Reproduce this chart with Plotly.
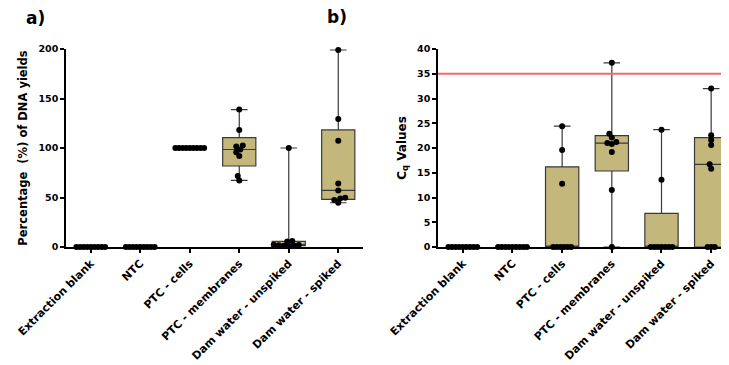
import numpy as np
import plotly.graph_objects as go

categories = ["Extraction blank", "NTC", "PTC - cells", "PTC - membranes",
              "Dam water - unspiked", "Dam water - spiked"]

# Panel a) Percentage (%) of DNA yields
yield_extraction_blank = [0, 0, 0, 0, 0, 0, 0, 0, 0]
yield_ntc = [0, 0, 0, 0, 0, 0, 0, 0, 0]
yield_ptc_cells = [100, 100, 100, 100, 100, 100, 100, 100, 100]
yield_ptc_membranes = [138.8, 118.3, 102.5, 101.5, 98.5, 95.8, 92.0, 71.6, 67.2]
yield_dam_unspiked = [100, 6.0, 5.5, 2.3, 2.0, 1.8, 1.5, 1.2, 1.0]
yield_dam_spiked = [199, 129.4, 107.2, 64.2, 57.1, 49.7, 49.0, 47.4, 44.7]

# Panel b) Cq values
cq_extraction_blank = [0, 0, 0, 0, 0, 0, 0, 0, 0]
cq_ntc = [0, 0, 0, 0, 0, 0, 0, 0, 0]
cq_ptc_cells = [24.4, 19.6, 12.8, 0, 0, 0, 0, 0, 0]
cq_ptc_membranes = [37.2, 22.9, 22.1, 21.2, 21.0, 20.8, 19.2, 11.5, 0]
cq_dam_unspiked = [23.7, 13.6, 0, 0, 0, 0, 0, 0, 0]
cq_dam_spiked = [32.0, 22.6, 21.6, 20.6, 16.7, 15.8, 0, 0, 0]

cq_threshold = 35

yield_groups = [yield_extraction_blank, yield_ntc, yield_ptc_cells,
                yield_ptc_membranes, yield_dam_unspiked, yield_dam_spiked]
cq_groups = [cq_extraction_blank, cq_ntc, cq_ptc_cells,
             cq_ptc_membranes, cq_dam_unspiked, cq_dam_spiked]

BOX_FILL = "#C3B77C"
LINE_COL = "#3a3a3a"
FONT = "DejaVu Sans"


def stats(vals):
    v = np.sort(np.asarray(vals, float))
    n = len(v)
    med = float(np.median(v))
    lower = v[: n // 2]
    upper = v[(n + 1) // 2:]
    return float(v.min()), float(np.median(lower)), med, float(np.median(upper)), float(v.max())


def swarm(vals, sx, sy, d=4.6, row=3.6):
    vals = np.asarray(vals, float)
    off = np.zeros(len(vals))
    placed = []
    uniq, counts = np.unique(vals, return_counts=True)
    for u, c in zip(uniq, counts):
        if c > 1:
            idx = np.where(vals == u)[0]
            for k, i in enumerate(idx):
                o = (k - (c - 1) / 2) * row
                off[i] = o / sx
                placed.append((o, u * sy))
    cands = sorted(np.arange(-20, 20.01, 0.5), key=abs)
    for u, c in zip(uniq, counts):
        if c == 1:
            i = int(np.where(vals == u)[0][0])
            y = u * sy
            chosen = 0.0
            for o in cands:
                if all((o - px) ** 2 + (y - py) ** 2 >= d * d for px, py in placed):
                    chosen = o
                    break
            off[i] = chosen / sx
            placed.append((chosen, y))
    return off


fig = go.Figure()

panels = [
    (yield_groups, "x", "y", 49.5, 0.99),
    (cq_groups, "x2", "y2", 49.67, 4.95),
]

for groups, xa, ya, sx, sy in panels:
    st = [stats(g) for g in groups]
    fig.add_trace(go.Box(
        x=list(range(len(groups))),
        lowerfence=[s[0] for s in st],
        q1=[s[1] for s in st],
        median=[s[2] for s in st],
        q3=[s[3] for s in st],
        upperfence=[s[4] for s in st],
        width=0.67,
        whiskerwidth=0.5,
        fillcolor=BOX_FILL,
        line=dict(color=LINE_COL, width=1.2),
        boxpoints=False,
        showlegend=False,
        hoverinfo="skip",
        xaxis=xa, yaxis=ya,
    ))
    xs, ys = [], []
    for i, g in enumerate(groups):
        off = swarm(g, sx, sy)
        xs.extend(list(i + off))
        ys.extend(list(g))
    fig.add_trace(go.Scatter(
        x=xs, y=ys, mode="markers",
        marker=dict(color="black", size=6),
        cliponaxis=False, showlegend=False,
        xaxis=xa, yaxis=ya,
    ))

axis_common = dict(showline=True, linecolor="black", linewidth=1.5,
                   ticks="outside", ticklen=4, tickwidth=1.5, tickcolor="black",
                   showgrid=False, zeroline=False)

xcommon = dict(axis_common, range=[-0.5, 5.5], tickvals=list(range(6)),
               ticktext=categories, tickangle=-45,
               tickfont=dict(family=FONT, size=11, color="black", weight=700))

fig.update_layout(
    width=729, height=365,
    margin=dict(l=58, r=1, t=41, b=126),
    plot_bgcolor="white", paper_bgcolor="white",
    font=dict(family=FONT, color="black"),
    xaxis=dict(xcommon, domain=[0, 0.4433], anchor="y"),
    xaxis2=dict(xcommon, domain=[0.5552, 1], anchor="y2"),
    yaxis=dict(axis_common, range=[0, 200], dtick=50, anchor="x",
               tickfont=dict(family=FONT, size=9.5, color="black", weight=700),
               title=dict(text="Percentage  (%) of DNA yields",
                          font=dict(family=FONT, size=11.5, color="black", weight=700),
                          standoff=8)),
    yaxis2=dict(axis_common, range=[0, 40], dtick=5, anchor="x2",
                tickfont=dict(family=FONT, size=9.5, color="black", weight=700),
                title=dict(text="C<sub>q</sub> Values",
                           font=dict(family=FONT, size=12, color="black", weight=700),
                           standoff=8)),
    shapes=[dict(type="line", xref="x2 domain", yref="y2", x0=0, x1=1,
                 y0=cq_threshold, y1=cq_threshold,
                 line=dict(color="#F06A6A", width=2))],
    annotations=[
        dict(text="a)", x=-0.045, y=1.155, xref="paper", yref="paper",
             showarrow=False, xanchor="center", yanchor="middle",
             font=dict(family=FONT, size=17, color="black", weight=700)),
        dict(text="b)", x=0.4045, y=1.162, xref="paper", yref="paper",
             showarrow=False, xanchor="center", yanchor="middle",
             font=dict(family=FONT, size=17, color="black", weight=700)),
    ],
)

fig.write_html("out.html")
